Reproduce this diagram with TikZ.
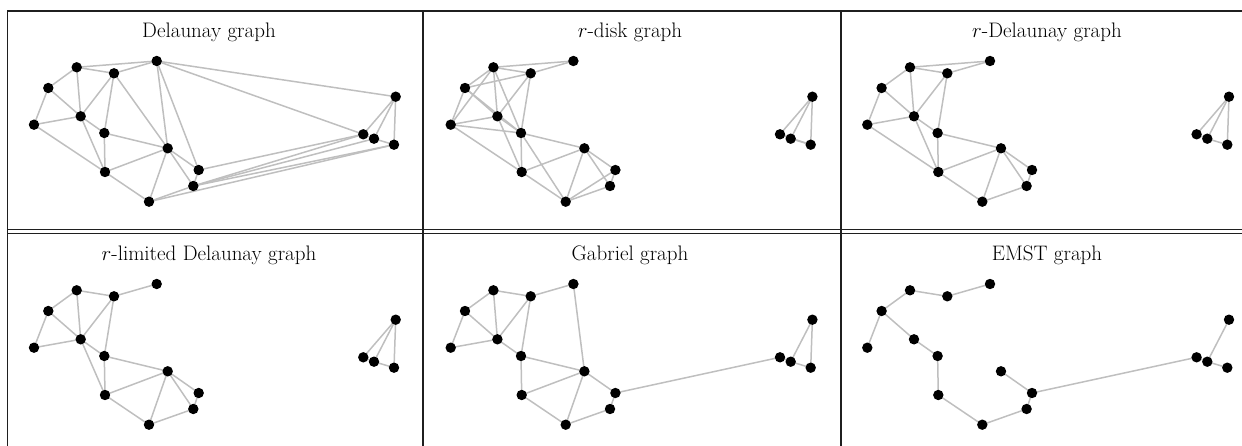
\documentclass[tikz,border=0pt]{standalone}
\pgfdeclarelayer{bg}
\pgfsetlayers{bg,main}
\newcommand\allpts{%
  \node[dot] (A) at (76.7,67.3) {};
  \node[dot] (B) at (114,73.3) {};
  \node[dot] (C) at (156.7,61) {};
  \node[dot] (D) at (48.3,88) {};
  \node[dot] (E) at (80.7,116.3) {};
  \node[dot] (F) at (34,124.7) {};
  \node[dot] (G) at (104.3,133) {};
  \node[dot] (H) at (167.7,148.3) {};
  \node[dot] (I) at (105,172) {};
  \node[dot] (J) at (198.7,170) {};
  \node[dot] (K) at (193.3,186) {};
  \node[dot] (L) at (149,201.7) {};
  \node[dot] (M) at (395.7,96.7) {};
  \node[dot] (N) at (363.3,134.3) {};
  \node[dot] (O) at (374,138.7) {};
  \node[dot] (P) at (394,144.7) {};}
\newcommand\links[1]{\begin{pgfonlayer}{bg}\foreach \u/\v in {#1} {\draw[lnk] (\u.center) -- (\v.center);}\end{pgfonlayer}}
\begin{document}
\begin{tikzpicture}[x=1pt,y=-1pt,
  dot/.style={circle,fill=black,inner sep=0pt,minimum size=10.4pt},
  lnk/.style={draw=black!25,line width=1.5pt},
  rule/.style={draw=black!88,line width=1.4pt},
  vrule/.style={draw=black!88,line width=1.8pt},
  ttl/.style={anchor=base,inner sep=0pt,font=\fontsize{21}{25}\selectfont}]
\useasboundingbox (0,0) rectangle (1242,446);
% table rules
\draw[rule] (7.7,446) -- (7.7,11) -- (1242,11);
\draw[rule] (7.7,229.5) -- (1242,229.5);
\draw[rule] (7.7,233.8) -- (1242,233.8);
\draw[vrule] (423,11) -- (423,446);
\draw[vrule] (840.7,11) -- (840.7,446);
% titles
\node[ttl] (t1) at (209,37.7) {Delaunay graph};
\node[ttl] (t2) at (630,37.7) {$r$-disk graph};
\node[ttl] (t3) at (1047,37.7) {$r$-Delaunay graph};
\node[ttl] (t4) at (209,260.7) {$r$-limited Delaunay graph};
\node[ttl] (t5) at (630,260.7) {Gabriel graph};
\node[ttl] (t6) at (1047,260.7) {EMST graph};
% Delaunay
\begin{scope}[name prefix=a-]
\allpts
\links{A/B,B/C,A/C,A/D,A/E,D/E,D/F,F/E,E/B,B/G,B/H,E/G,E/I,G/I,G/H,F/I,I/H,I/L,H/L,H/J,H/K,C/H,C/J,C/N,C/M,J/N,J/K,K/N,K/O,K/P,L/K,L/P,M/N,M/O,M/P,N/O,O/P}
\end{scope}
% r-disk
\begin{scope}[shift={(416.7,0)},name prefix=b-]
\allpts
\links{A/B,A/C,A/D,A/E,A/F,A/G,B/C,B/D,B/E,B/G,D/E,D/F,D/G,E/F,E/G,E/I,F/G,F/I,G/H,G/I,G/L,H/I,H/J,H/K,H/L,I/L,J/K,J/L,K/L,M/N,M/O,M/P,N/O,N/P,O/P}
\end{scope}
% r-Delaunay
\begin{scope}[shift={(833.3,0)},name prefix=c-]
\allpts
\links{A/B,B/C,A/C,A/D,A/E,D/E,D/F,F/E,E/B,B/G,E/G,E/I,G/I,G/H,F/I,I/H,I/L,H/L,H/J,H/K,J/K,L/K,M/N,M/O,M/P,N/O,O/P}
\end{scope}
% r-limited Delaunay
\begin{scope}[shift={(0,223)},name prefix=d-]
\allpts
\links{A/B,B/C,A/D,A/E,D/E,D/F,F/E,E/B,B/G,E/G,E/I,G/I,G/H,I/H,I/L,H/L,H/J,H/K,J/K,L/K,M/N,M/O,M/P,N/O,O/P}
\end{scope}
% Gabriel
\begin{scope}[shift={(416.7,223)},name prefix=e-]
\allpts
\links{A/B,B/C,A/D,A/E,D/E,D/F,F/E,E/B,E/G,B/G,G/H,G/I,I/H,I/L,L/K,K/J,H/J,H/L,C/H,J/N,M/O,M/P,N/O,O/P}
\end{scope}
% EMST
\begin{scope}[shift={(833.3,223)},name prefix=f-]
\allpts
\links{A/B,B/C,A/D,D/F,D/E,E/G,G/I,I/L,L/K,K/J,J/H,J/N,N/O,O/M,O/P}
\end{scope}
\end{tikzpicture}
\end{document}
